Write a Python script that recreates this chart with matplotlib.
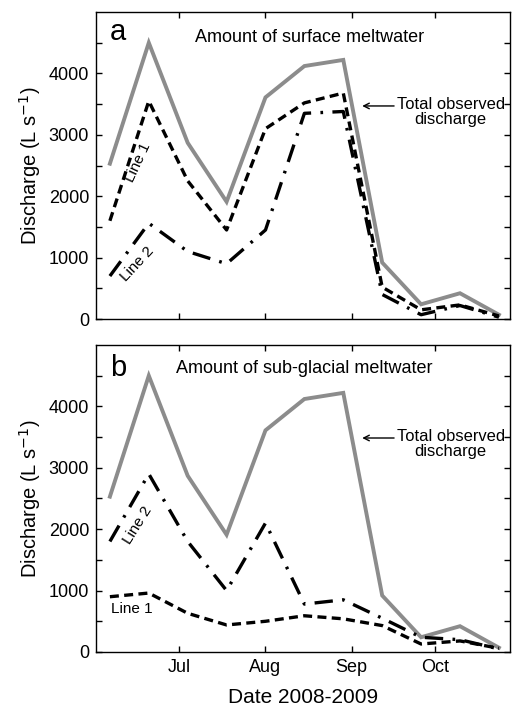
import matplotlib
matplotlib.use("Agg")
import matplotlib.pyplot as plt
import numpy as np

plt.rcParams["font.family"] = ["Liberation Sans", "DejaVu Sans"]

# sampling dates (two-weekly)
dates = np.arange(np.datetime64("2009-06-06"), np.datetime64("2009-10-30"), np.timedelta64(14, "D"))

total = [2530, 4500, 2870, 1910, 3610, 4120, 4220, 920, 240, 420, 70]

# panel a: surface meltwater
surf_line1 = [1600, 3550, 2250, 1450, 3100, 3520, 3680, 520, 150, 230, 50]
surf_line2 = [700, 1560, 1100, 900, 1450, 3350, 3380, 400, 70, 220, 30]

# panel b: sub-glacial meltwater
sub_line1 = [900, 960, 630, 440, 500, 590, 540, 430, 130, 180, 60]
sub_line2 = [1800, 2900, 1800, 1000, 2100, 780, 850, 550, 240, 200, 50]

month_ticks = [np.datetime64("2009-07-01"), np.datetime64("2009-08-01"),
               np.datetime64("2009-09-01"), np.datetime64("2009-10-01")]
month_labels = ["Jul", "Aug", "Sep", "Oct"]

gray = "#8c8c8c"
lw = 2.4

fig = plt.figure(figsize=(5.12, 7.11), dpi=100)
ax_a = fig.add_axes([0.1875, 0.5513, 0.8086, 0.4318])
ax_b = fig.add_axes([0.1875, 0.0830, 0.8086, 0.4318])


def style(ax, show_xlabels):
    ax.set_xlim(np.datetime64("2009-06-01"), np.datetime64("2009-10-28"))
    ax.set_ylim(0, 5000)
    ax.set_yticks([0, 1000, 2000, 3000, 4000])
    ax.set_yticks(np.arange(500, 5000, 1000), minor=True)
    ax.set_xticks(month_ticks)
    ax.set_xticklabels(month_labels if show_xlabels else [])
    ax.tick_params(which="both", direction="in", top=True, right=True,
                   length=4, width=1, labelsize=13, pad=5)
    for s in ax.spines.values():
        s.set_linewidth(1.0)
    ax.set_ylabel("Discharge (L s$^{-1}$)", fontsize=14.5, labelpad=4)


for ax in (ax_a, ax_b):
    ax.plot(dates, total, color=gray, lw=lw + 0.4, solid_joinstyle="miter")

ax_a.plot(dates, surf_line1, color="black", lw=lw, dashes=(2.7, 1.6))
ax_a.plot(dates, surf_line2, color="black", lw=lw, dashes=(5.5, 2.8, 0.8, 2.8))
ax_b.plot(dates, sub_line1, color="black", lw=lw, dashes=(2.7, 1.6))
ax_b.plot(dates, sub_line2, color="black", lw=lw, dashes=(5.5, 2.8, 0.8, 2.8))

style(ax_a, False)
style(ax_b, True)
ax_b.set_xlabel("Date 2008-2009", fontsize=15, labelpad=9)

# panel letters and titles
ax_a.text(0.053, 0.935, "a", transform=ax_a.transAxes, fontsize=21, ha="center", va="center")
ax_b.text(0.053, 0.925, "b", transform=ax_b.transAxes, fontsize=21, ha="center", va="center")
ax_a.text(0.517, 0.918, "Amount of surface meltwater", transform=ax_a.transAxes,
          fontsize=13, ha="center", va="center")
ax_b.text(0.502, 0.925, "Amount of sub-glacial meltwater", transform=ax_b.transAxes,
          fontsize=13, ha="center", va="center")

# total discharge annotations
for ax, yy in ((ax_a, 0.694), (ax_b, 0.697)):
    ax.annotate("", xy=(0.643, yy), xytext=(0.72, yy), xycoords="axes fraction",
                arrowprops=dict(arrowstyle="->", lw=1.0, color="black",
                                shrinkA=0, shrinkB=0))
    ax.text(0.857, yy + 0.03, "Total observed\ndischarge", transform=ax.transAxes,
            fontsize=11.9, ha="center", va="top", linespacing=1.05)

# line labels
d0 = np.datetime64("2009-06-01")
ax_a.text(d0 + np.timedelta64(15, "D"), 2550, "Line 1", rotation=65, fontsize=11,
          ha="center", va="center")
ax_a.text(d0 + np.timedelta64(15, "D"), 900, "Line 2", rotation=47, fontsize=11,
          ha="center", va="center")
ax_b.text(d0 + np.timedelta64(15, "D"), 2070, "Line 2", rotation=58, fontsize=11,
          ha="center", va="center")
ax_b.text(d0 + np.timedelta64(13, "D"), 700, "Line 1", rotation=0, fontsize=11,
          ha="center", va="center")

fig.savefig("out.png", dpi=100)
